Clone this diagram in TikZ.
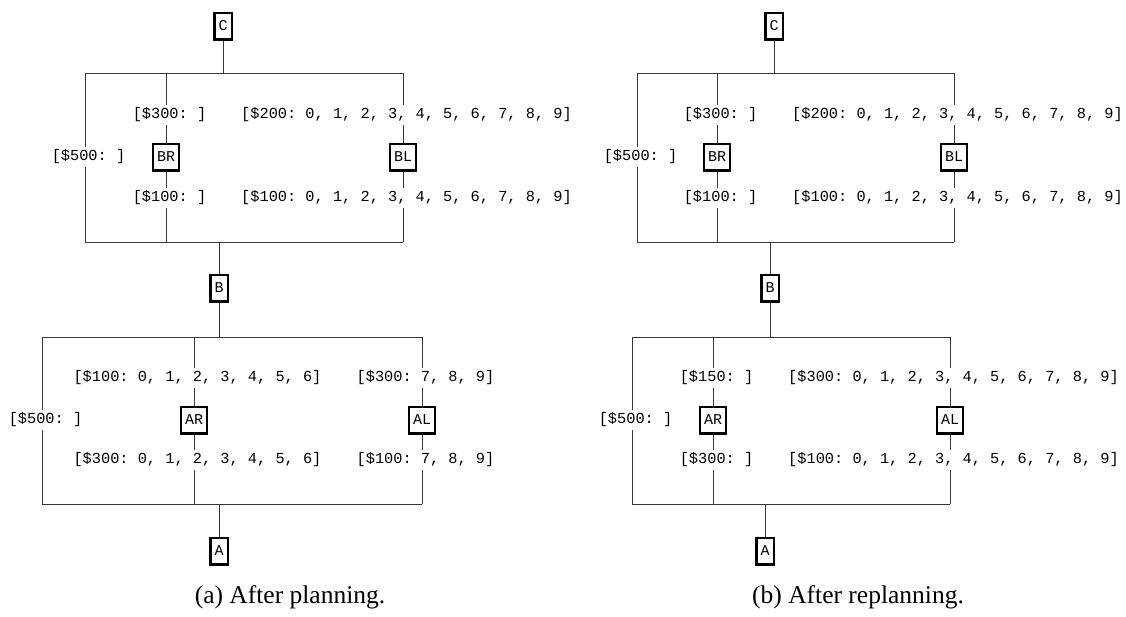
\documentclass[tikz,border=0pt]{standalone}
\usepackage{fontspec}
\setmainfont{Liberation Serif}
\newfontfamily\monof{Liberation Mono}
\frenchspacing
\begin{document}
\begin{tikzpicture}[x=1pt,y=-1pt,
  wire/.style={draw=black!78,line width=1pt},
  box/.style={draw=black,line width=2.5pt,fill=white,minimum height=26.5pt,minimum width=17.5pt,
    inner xsep=4pt,inner ysep=2pt,font=\frenchspacing\monof\fontsize{15}{18}\selectfont},
  lab/.style={fill=white,inner xsep=1pt,inner ysep=2.5pt,font=\frenchspacing\monof\fontsize{15.3}{18}\selectfont},
  captext/.style={font=\fontsize{25.5}{30}\selectfont}]
\useasboundingbox (0,0) rectangle (1126,616);
\fill[white] (0,0) rectangle (1126,616);

% ================= (a) =================
\node[box] (aC) at (223,26) {C};
\node[box] (aBR) at (166,157) {BR};
\node[box] (aBL) at (403,157) {BL};
\node[box] (aB) at (219,288) {B};
\node[box] (aAR) at (194,420) {AR};
\node[box] (aAL) at (422,420) {AL};
\node[box] (aA) at (219,551) {A};
\coordinate (aJ1) at (223,73);
\coordinate (aT1) at (85,73);
\coordinate (aT2) at (166,73);
\coordinate (aT3) at (403,73);
\coordinate (aK1) at (219,242);
\coordinate (aK0) at (85,242);
\coordinate (aK2) at (166,242);
\coordinate (aK3) at (403,242);
\coordinate (aJ2) at (219,337);
\coordinate (aU1) at (42,337);
\coordinate (aU2) at (194,337);
\coordinate (aU3) at (422,337);
\coordinate (aL1) at (219,504);
\coordinate (aL0) at (42,504);
\coordinate (aL2) at (194,504);
\coordinate (aL3) at (422,504);

\path[wire] (aC) -- (aJ1);
\path[wire] (aT1) -- (aT3);
\path[wire] (aT1) -- (aK0) -- (aK3);
\path[wire] (aT2) -- (aBR) -- (aK2);
\path[wire] (aT3) -- (aBL) -- (aK3);
\path[wire] (aK1) -- (aB) -- (aJ2);
\path[wire] (aU1) -- (aU3);
\path[wire] (aU1) -- (aL0) -- (aL3);
\path[wire] (aU2) -- (aAR) -- (aL2);
\path[wire] (aU3) -- (aAL) -- (aL3);
\path[wire] (aL1) -- (aA);

\node[lab] (a1) at (169.5,115) {[\$300: ]};
\node[lab] (a2) at (406.5,115) {[\$200: 0, 1, 2, 3, 4, 5, 6, 7, 8, 9]};
\node[lab] (a3) at (88.5,157) {[\$500: ]};
\node[lab] (a4) at (169.5,198) {[\$100: ]};
\node[lab] (a5) at (406.5,198) {[\$100: 0, 1, 2, 3, 4, 5, 6, 7, 8, 9]};
\node[lab] (a6) at (197.5,378) {[\$100: 0, 1, 2, 3, 4, 5, 6]};
\node[lab] (a7) at (425.5,378) {[\$300: 7, 8, 9]};
\node[lab] (a8) at (45.5,420) {[\$500: ]};
\node[lab] (a9) at (197.5,460) {[\$300: 0, 1, 2, 3, 4, 5, 6]};
\node[lab] (a10) at (425.5,460) {[\$100: 7, 8, 9]};
\node[captext] (capa) at (290,597) {(a) After planning.};

% ================= (b) =================
\node[box] (bC) at (774,26) {C};
\node[box] (bBR) at (717,157) {BR};
\node[box] (bBL) at (954,157) {BL};
\node[box] (bB) at (770,288) {B};
\node[box] (bAR) at (713,420) {AR};
\node[box] (bAL) at (950,420) {AL};
\node[box] (bA) at (765,551) {A};
\coordinate (bJ1) at (774,73);
\coordinate (bT1) at (637,73);
\coordinate (bT2) at (717,73);
\coordinate (bT3) at (954,73);
\coordinate (bK1) at (770,242);
\coordinate (bK0) at (637,242);
\coordinate (bK2) at (717,242);
\coordinate (bK3) at (954,242);
\coordinate (bJ2) at (770,337);
\coordinate (bU1) at (632,337);
\coordinate (bU2) at (713,337);
\coordinate (bU3) at (950,337);
\coordinate (bL1) at (765,504);
\coordinate (bL0) at (632,504);
\coordinate (bL2) at (713,504);
\coordinate (bL3) at (950,504);

\path[wire] (bC) -- (bJ1);
\path[wire] (bT1) -- (bT3);
\path[wire] (bT1) -- (bK0) -- (bK3);
\path[wire] (bT2) -- (bBR) -- (bK2);
\path[wire] (bT3) -- (bBL) -- (bK3);
\path[wire] (bK1) -- (bB) -- (bJ2);
\path[wire] (bU1) -- (bU3);
\path[wire] (bU1) -- (bL0) -- (bL3);
\path[wire] (bU2) -- (bAR) -- (bL2);
\path[wire] (bU3) -- (bAL) -- (bL3);
\path[wire] (bL1) -- (bA);

\node[lab] (b1) at (720.5,115) {[\$300: ]};
\node[lab] (b2) at (957.5,115) {[\$200: 0, 1, 2, 3, 4, 5, 6, 7, 8, 9]};
\node[lab] (b3) at (640.5,157) {[\$500: ]};
\node[lab] (b4) at (720.5,198) {[\$100: ]};
\node[lab] (b5) at (957.5,198) {[\$100: 0, 1, 2, 3, 4, 5, 6, 7, 8, 9]};
\node[lab] (b6) at (716.5,378) {[\$150: ]};
\node[lab] (b7) at (953.5,378) {[\$300: 0, 1, 2, 3, 4, 5, 6, 7, 8, 9]};
\node[lab] (b8) at (635.5,420) {[\$500: ]};
\node[lab] (b9) at (716.5,460) {[\$300: ]};
\node[lab] (b10) at (953.5,460) {[\$100: 0, 1, 2, 3, 4, 5, 6, 7, 8, 9]};
\node[captext] (capb) at (858,597) {(b) After replanning.};
\end{tikzpicture}
\end{document}
